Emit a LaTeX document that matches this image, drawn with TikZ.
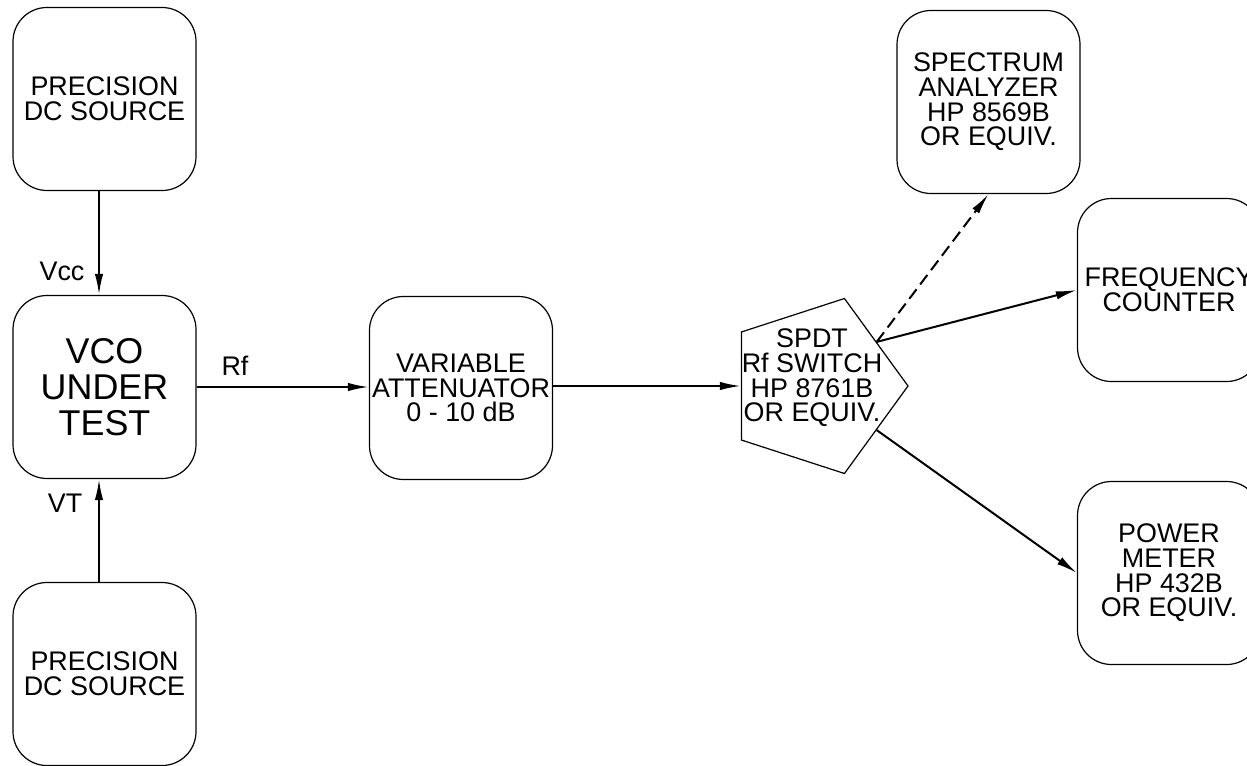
\documentclass[tikz,border=0pt]{standalone}
\usepackage{fontspec}
\setmainfont{Liberation Sans}
\usepackage{tikz}
\usetikzlibrary{arrows.meta, shapes, calc}
\tikzset{
	every node/.style={
		font=\fontsize{13.5}{12.4}\selectfont,
		align=center
	},
	equipo/.style={
		shape=rectangle,
		minimum width=91.5bp,
		minimum height=91.5bp,
		inner sep=0pt,
		text centered,
		rounded corners=17bp,
		line width=0.6bp,
		draw
	},
	conmutador/.style={
		shape=regular polygon,
		regular polygon sides=5,
		shape border rotate=-90,
		minimum size=92bp,
		inner sep=0pt,
		line width=0.6bp,
		draw
	},
	senal/.style={
		-{Latex[length=10.5bp,width=4.2bp]},
		line width=1bp
	}
}

\begin{document}
\begin{tikzpicture}[x=0.5bp, y=-0.5bp]
	
	\useasboundingbox (0,0) rectangle (1247,765);
	
	\foreach \nombre/\x/\y/\texto in {
			fuente1/104.5/99/{PRECISION\\DC SOURCE},
			fuente2/104.5/674/{PRECISION\\DC SOURCE},
			atenuador/461/388/{VARIABLE\\ATTENUATOR\\0 - 10 dB},
			analizador/988.5/102/{SPECTRUM\\ANALYZER\\HP 8569B\\OR EQUIV.},
			contador/1169/290/{FREQUENCY\\COUNTER},
			medidor/1169/573/{POWER\\METER\\HP 432B\\OR EQUIV.}%
		} {
			\node[equipo] (\nombre) at (\x,\y) {\texto};
		}
	
	\node[equipo, font=\fontsize{18}{18}\selectfont] (vco) at (104.5,387) {VCO\\UNDER\\TEST};
	
	\node[conmutador] (sw) at (816,386) {};
	\node (swtexto) at (812,378) {SPDT\\Rf SWITCH\\HP 8761B\\OR EQUIV.};
	
	\draw[senal] ([xshift=-2.75bp]fuente1.south) -- ([xshift=-2.75bp]vco.north);
	\draw[senal] ([xshift=-2.75bp]fuente2.north) -- ([xshift=-2.75bp]vco.south);
	\draw[senal] (vco.east) -- (atenuador.west |- vco.east);
	\draw[senal] (atenuador.east |- sw.west) -- (sw.west);
	\draw[senal, dash pattern=on 6bp off 3bp] (sw.side 1) -- (analizador.south);
	\draw[senal] (sw.side 1) -- (contador.west);
	\draw[senal] (sw.side 5) -- (medidor.west);
	
	\node (vcc) at (62,271) {Vcc};
	\node (vt) at (65,503) {VT};
	\node (rf) at (235,366) {Rf};
	
\end{tikzpicture}
\end{document}
